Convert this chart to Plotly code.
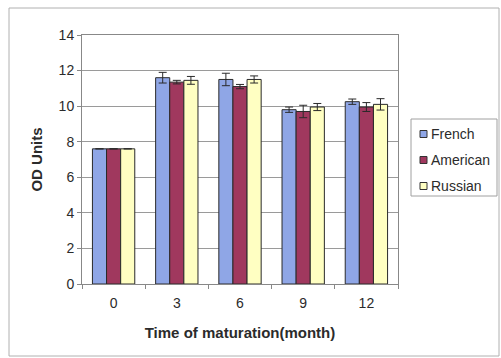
import plotly.graph_objects as go

months = ["0", "3", "6", "9", "12"]
french = [7.6, 11.6, 11.5, 9.8, 10.25]
american = [7.6, 11.35, 11.1, 9.7, 9.95]
russian = [7.6, 11.45, 11.5, 9.95, 10.1]
french_err = [0, 0.3, 0.35, 0.15, 0.15]
american_err = [0, 0.1, 0.12, 0.35, 0.25]
russian_err = [0, 0.22, 0.2, 0.2, 0.32]

series = [
    ("French", french, french_err, "#8FA6E6"),
    ("American", american, american_err, "#A0385E"),
    ("Russian", russian, russian_err, "#FFFFC2"),
]

# plot-area geometry in pixels, used to place the frame and the legend box
W, H = 501, 358
L, R, T, B = 82, 398, 35, 284


def px(x):
    return (x - L) / (R - L)


def py(y):
    return (B - y) / (B - T)


fig = go.Figure()
for name, vals, errs, color in series:
    fig.add_trace(go.Bar(
        x=months, y=vals, name=name,
        marker=dict(color=color, line=dict(color="#2a2a2a", width=1)),
        error_y=dict(type="data", array=errs, visible=True,
                     color="#2a2a2a", thickness=1, width=4),
        showlegend=False,
    ))

font = "Liberation Sans, Arial, sans-serif"
txt = "#2b2b2b"

shapes = [
    # outer chart frame
    dict(type="rect", xref="paper", yref="paper",
         x0=px(9), x1=px(499), y0=py(356), y1=py(8),
         line=dict(color="#B0B0B0", width=1), layer="below"),
    # legend frame
    dict(type="rect", xref="paper", yref="paper",
         x0=px(411), x1=px(497), y0=py(196), y1=py(119),
         line=dict(color="#A0A0A0", width=1), fillcolor="white"),
]
annotations = []
for i, (name, vals, errs, color) in enumerate(series):
    cy = 134 + 26 * i
    shapes.append(dict(type="rect", xref="paper", yref="paper",
                       x0=px(420), x1=px(427), y0=py(cy + 3.5), y1=py(cy - 3.5),
                       line=dict(color="#333333", width=1), fillcolor=color))
    annotations.append(dict(xref="paper", yref="paper", x=px(429), y=py(cy),
                            xanchor="left", yanchor="middle", showarrow=False,
                            text=name, font=dict(family=font, size=14, color=txt)))

fig.update_layout(
    width=W, height=H,
    margin=dict(l=L, r=W - R, t=T, b=H - B, autoexpand=False),
    paper_bgcolor="white", plot_bgcolor="white",
    barmode="group", bargap=0.33, bargroupgap=0,
    font=dict(family=font, size=14, color=txt),
    showlegend=False,
    xaxis=dict(
        type="category", tickson="boundaries", ticks="outside", ticklen=4,
        tickcolor="#888888", showline=True, linecolor="#888888", mirror=True,
        showgrid=False, ticklabelstandoff=6,
        tickfont=dict(size=14, color=txt),
        title=dict(text="<b>Time of maturation(month)</b>",
                   font=dict(size=15, color=txt), standoff=17),
    ),
    yaxis=dict(
        range=[0, 14], tickvals=[0, 2, 4, 6, 8, 10, 12, 14], ticks="outside", ticklen=4,
        tickcolor="#888888", showline=True, linecolor="#888888", mirror=True,
        showgrid=True, gridcolor="#9a9a9a", gridwidth=1,
        zeroline=False, tickfont=dict(size=14, color=txt),
        title=dict(text="<b>OD Units</b>", font=dict(size=15, color=txt), standoff=12),
    ),
    shapes=shapes,
    annotations=annotations,
)

fig.write_html("out.html")
